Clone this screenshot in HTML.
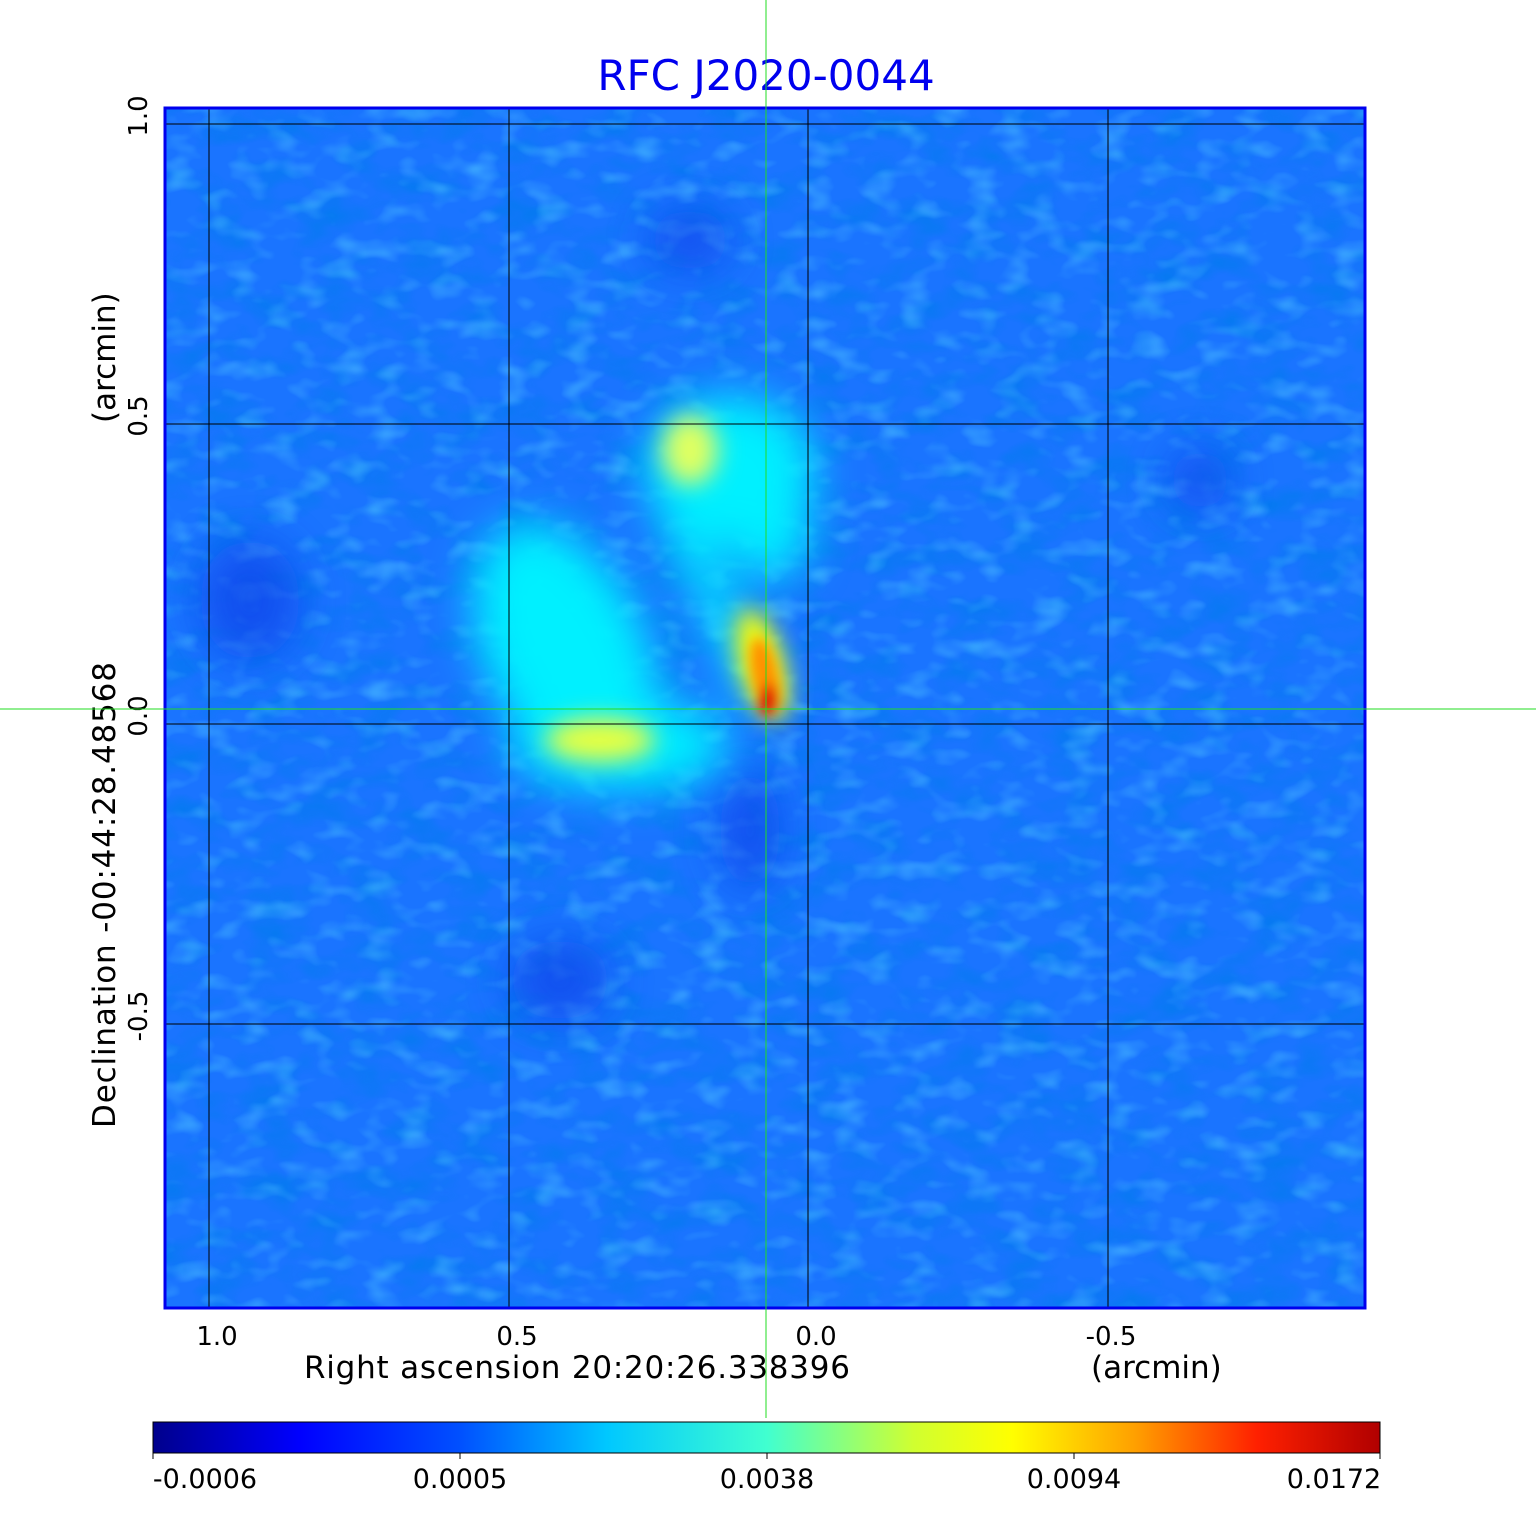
<!DOCTYPE html>
<html><head><style>
body{margin:0;background:#fff;width:1536px;height:1511px;overflow:hidden;font-family:"DejaVu Sans","Liberation Sans",sans-serif}
</style></head><body>
<svg width="1536" height="1511" xmlns="http://www.w3.org/2000/svg" font-family="DejaVu Sans, Liberation Sans, sans-serif" xml:space="preserve">
<defs>
<filter id="b1" x="-50%" y="-50%" width="200%" height="200%"><feGaussianBlur stdDeviation="22"/></filter>
<filter id="b2" x="-50%" y="-50%" width="200%" height="200%"><feGaussianBlur stdDeviation="12"/></filter>
<filter id="b3" x="-50%" y="-50%" width="200%" height="200%"><feGaussianBlur stdDeviation="6"/></filter>
<filter id="noise"><feTurbulence type="fractalNoise" baseFrequency="0.02 0.035" numOctaves="3" seed="5"/><feColorMatrix values="0 0 0 0 0.0  0 0 0 0 0.2  0 0 0 0 0.85  0 0 0 -2.2 1.25"/></filter>
<filter id="noise2"><feTurbulence type="fractalNoise" baseFrequency="0.03 0.05" numOctaves="2" seed="11"/><feColorMatrix values="0 0 0 0 0.1  0 0 0 0 0.65  0 0 0 0 1  0 0 0 -2.4 1.2"/></filter>
<linearGradient id="cb" x1="0" x2="1">
<stop offset="0" stop-color="#00008c"/><stop offset="0.12" stop-color="#0000ff"/><stop offset="0.25" stop-color="#0050ff"/><stop offset="0.37" stop-color="#00c8ff"/><stop offset="0.5" stop-color="#40ffd0"/><stop offset="0.62" stop-color="#d0ff30"/><stop offset="0.7" stop-color="#ffff00"/><stop offset="0.8" stop-color="#ffa000"/><stop offset="0.9" stop-color="#ff2000"/><stop offset="1" stop-color="#b00000"/>
</linearGradient>
<clipPath id="pc"><rect x="165" y="108" width="1200" height="1200"/></clipPath>
</defs>
<text x="766" y="90" text-anchor="middle" font-size="42" fill="#0000ee">RFC J2020-0044</text>
<g clip-path="url(#pc)">
<rect x="165" y="108" width="1200" height="1200" fill="#1a74ff"/>
<rect x="165" y="108" width="1200" height="1200" filter="url(#noise)" opacity="0.7"/>
<rect x="165" y="108" width="1200" height="1200" filter="url(#noise2)" opacity="0.5"/>
<g filter="url(#b1)" fill="#0a40e8" opacity="0.7">
<ellipse cx="690" cy="240" rx="40" ry="30"/>
<ellipse cx="750" cy="830" rx="30" ry="60"/>
<ellipse cx="560" cy="980" rx="50" ry="40"/>
<ellipse cx="1200" cy="480" rx="30" ry="30"/>
<ellipse cx="250" cy="600" rx="50" ry="60"/>
</g>
<g filter="url(#b1)">
<ellipse cx="730" cy="470" rx="85" ry="75" fill="#00f0ff"/>
<ellipse cx="770" cy="520" rx="40" ry="60" fill="#00f0ff"/>
<ellipse cx="565" cy="650" rx="80" ry="135" fill="#00f0ff" transform="rotate(-25 565 650)"/>
<ellipse cx="620" cy="745" rx="110" ry="45" fill="#00f0ff"/>
<path d="M690 500 L775 690 L745 700 L660 520Z" fill="#00f0ff"/>
</g>
<g filter="url(#b2)">
<ellipse cx="690" cy="450" rx="28" ry="35" fill="#e0ff60"/>
<ellipse cx="600" cy="740" rx="55" ry="22" fill="#e8ff40"/>
<ellipse cx="762" cy="665" rx="22" ry="58" fill="#ffff00" transform="rotate(-15 762 665)"/>
</g>
<g filter="url(#b3)">
<ellipse cx="765" cy="675" rx="13" ry="38" fill="#ff9000" transform="rotate(-12 765 675)"/>
<ellipse cx="768" cy="700" rx="9" ry="16" fill="#e00000"/>
</g>
<g stroke="#000" stroke-width="1">
<line x1="209" y1="108" x2="209" y2="1308"/><line x1="509" y1="108" x2="509" y2="1308"/><line x1="808" y1="108" x2="808" y2="1308"/><line x1="1108" y1="108" x2="1108" y2="1308"/>
<line x1="165" y1="124" x2="1365" y2="124"/><line x1="165" y1="424" x2="1365" y2="424"/><line x1="165" y1="724" x2="1365" y2="724"/><line x1="165" y1="1024" x2="1365" y2="1024"/>
</g>
</g>
<rect x="165" y="108" width="1200" height="1200" fill="none" stroke="#0000ee" stroke-width="3"/>
<g font-size="26" fill="#000">
<text x="217" y="1345" text-anchor="middle">1.0</text>
<text x="517" y="1345" text-anchor="middle">0.5</text>
<text x="816" y="1345" text-anchor="middle">0.0</text>
<text x="1111" y="1345" text-anchor="middle">-0.5</text>
<text x="304" y="1378" font-size="31" textLength="546">Right ascension  20:20:26.338396</text>
<text x="1091" y="1378" font-size="31">(arcmin)</text>
<text transform="translate(147 116) rotate(-90)" text-anchor="middle">1.0</text>
<text transform="translate(147 416) rotate(-90)" text-anchor="middle">0.5</text>
<text transform="translate(147 716) rotate(-90)" text-anchor="middle">0.0</text>
<text transform="translate(147 1016) rotate(-90)" text-anchor="middle">-0.5</text>
<text transform="translate(115 1128) rotate(-90)" font-size="31" textLength="466">Declination  -00:44:28.48568</text>
<text transform="translate(115 423) rotate(-90)" font-size="31">(arcmin)</text>
</g>
<line x1="766" y1="0" x2="766" y2="1418" stroke="#22dd22" stroke-width="1"/>
<line x1="0" y1="709" x2="1536" y2="709" stroke="#22dd22" stroke-width="1"/>
<rect x="153" y="1422" width="1227" height="31" fill="url(#cb)" stroke="#000" stroke-width="1"/>
<g stroke="#000"><line x1="153" y1="1453" x2="153" y2="1459"/><line x1="460" y1="1453" x2="460" y2="1459"/><line x1="767" y1="1453" x2="767" y2="1459"/><line x1="1074" y1="1453" x2="1074" y2="1459"/><line x1="1380" y1="1453" x2="1380" y2="1459"/></g>
<g font-size="27" fill="#000" text-anchor="middle">
<text x="205" y="1488">-0.0006</text><text x="460" y="1488">0.0005</text><text x="767" y="1488">0.0038</text><text x="1074" y="1488">0.0094</text><text x="1334" y="1488">0.0172</text>
</g>
</svg>
</body></html>
